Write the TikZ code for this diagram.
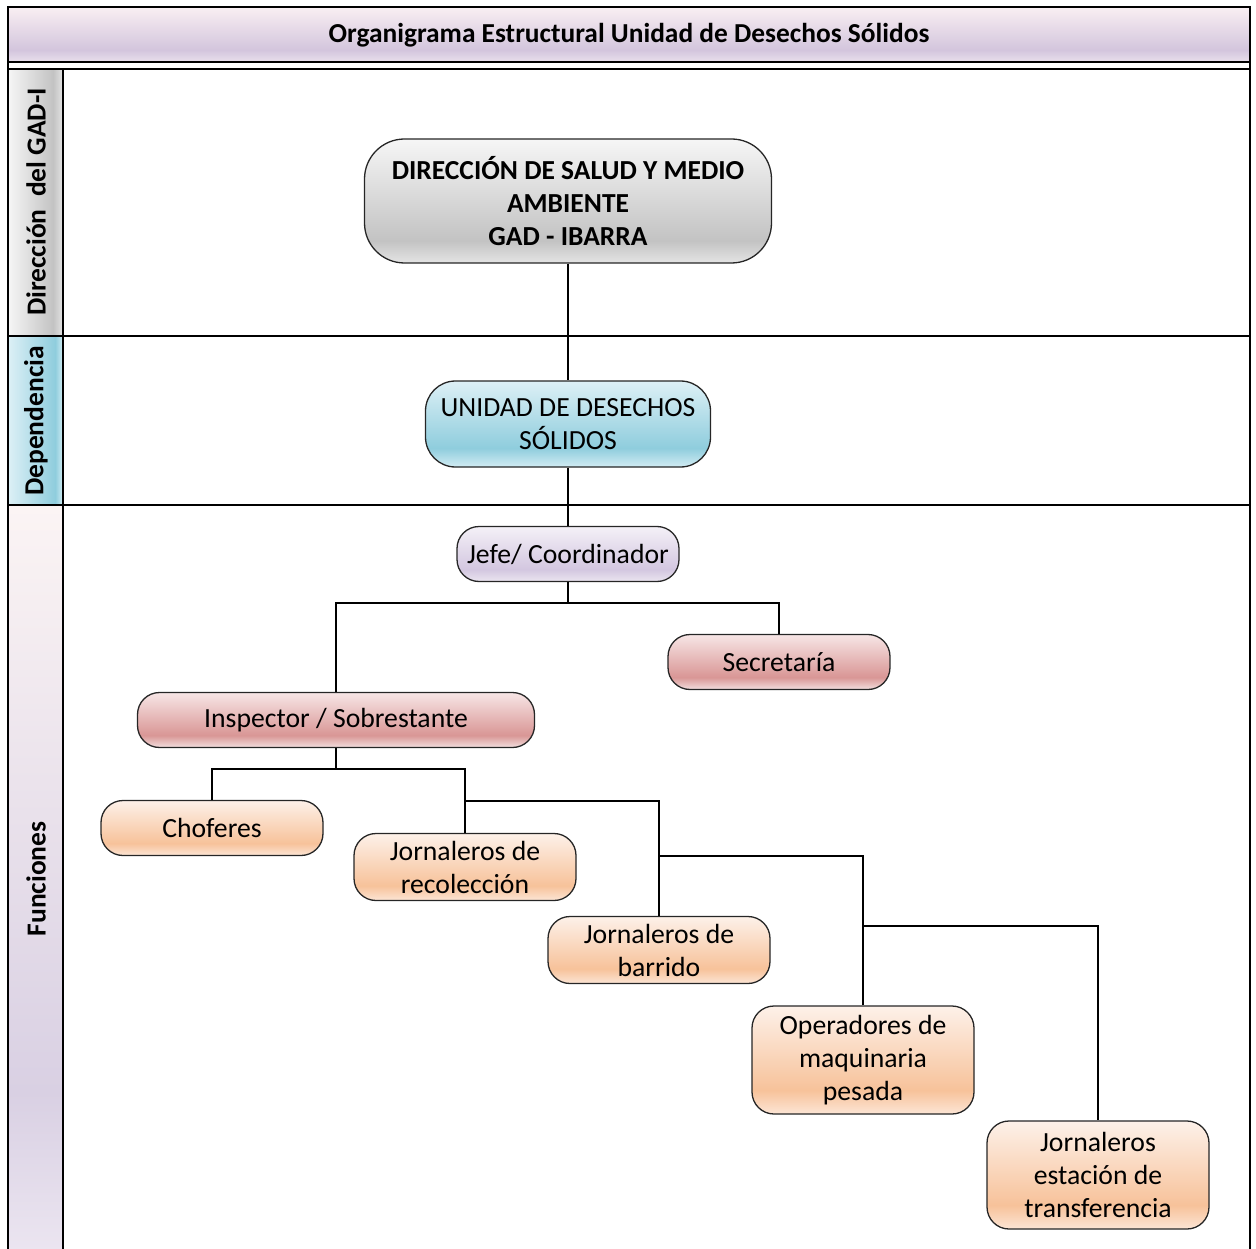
\documentclass[tikz,border=0pt]{standalone}
\usepackage{fontspec}
\setmainfont{Carlito}
\usetikzlibrary{positioning}

% Office-like fill colours: light top, darker band low down, light bottom
\definecolor{grT}{HTML}{F6F6F6}\definecolor{grD}{HTML}{C3C3C3}\definecolor{grB}{HTML}{E4E4E4}
\definecolor{blT}{HTML}{DDF0F6}\definecolor{blD}{HTML}{8FCDDD}\definecolor{blB}{HTML}{D2ECF3}
\definecolor{lvT}{HTML}{F4F0F7}\definecolor{lvD}{HTML}{D3C7E0}\definecolor{lvB}{HTML}{EBE5F0}
\definecolor{rdT}{HTML}{F7E6E6}\definecolor{rdD}{HTML}{D99695}\definecolor{rdB}{HTML}{F2DFDF}
\definecolor{orT}{HTML}{FDF1E9}\definecolor{orD}{HTML}{F7C29A}\definecolor{orB}{HTML}{FCE5D5}
\definecolor{ttT}{HTML}{F9EFF2}\definecolor{ttD}{HTML}{D3C5DD}\definecolor{ttB}{HTML}{E9E0EC}
\definecolor{fnT}{HTML}{FBF4F4}\definecolor{fnD}{HTML}{D9D0E3}\definecolor{fnB}{HTML}{ECE6F1}

\pgfdeclareverticalshading{grayfill}{100bp}{color(0bp)=(grB); color(25bp)=(grB); color(34bp)=(grD); color(75bp)=(grT); color(100bp)=(grT)}
\pgfdeclareverticalshading{bluefill}{100bp}{color(0bp)=(blB); color(25bp)=(blB); color(36bp)=(blD); color(75bp)=(blT); color(100bp)=(blT)}
\pgfdeclareverticalshading{lavfill}{100bp}{color(0bp)=(lvB); color(25bp)=(lvB); color(36bp)=(lvD); color(75bp)=(lvT); color(100bp)=(lvT)}
\pgfdeclareverticalshading{redfill}{100bp}{color(0bp)=(rdB); color(25bp)=(rdB); color(36bp)=(rdD); color(75bp)=(rdT); color(100bp)=(rdT)}
\pgfdeclareverticalshading{orfill}{100bp}{color(0bp)=(orB); color(25bp)=(orB); color(36bp)=(orD); color(75bp)=(orT); color(100bp)=(orT)}
\pgfdeclareverticalshading{titlefill}{100bp}{color(0bp)=(ttB); color(25bp)=(ttB); color(36bp)=(ttD); color(75bp)=(ttT); color(100bp)=(ttT)}
\pgfdeclareverticalshading{funcfill}{100bp}{color(0bp)=(fnB); color(25bp)=(fnB); color(36bp)=(fnD); color(75bp)=(fnT); color(100bp)=(fnT)}
\pgfdeclarehorizontalshading{graylane}{100bp}{color(0bp)=(grT); color(25bp)=(grT); color(66bp)=(grD); color(75bp)=(grB); color(100bp)=(grB)}
\pgfdeclarehorizontalshading{bluelane}{100bp}{color(0bp)=(blT); color(25bp)=(blT); color(68bp)=(blD); color(75bp)=(blB); color(100bp)=(blB)}

\tikzset{
  box/.style={draw=black!85, line width=1.3pt, rounded corners=22pt, align=center,
    font=\fontsize{27.7}{33}\selectfont, inner sep=0pt},
  gray box/.style={box, shading=grayfill, font=\bfseries\fontsize{27.5}{33}\selectfont, rounded corners=40pt},
  blue box/.style={box, shading=bluefill, rounded corners=30pt},
  lav box/.style={box, shading=lavfill},
  red box/.style={box, shading=redfill},
  or box/.style={box, shading=orfill},
  conn/.style={draw=black, line width=1.3pt},
  frame/.style={draw=black, line width=2pt},
  lanelabel/.style={rotate=90, font=\bfseries\fontsize{27.5}{30}\selectfont},
}

\begin{document}
\begin{tikzpicture}[x=1pt, y=-1pt]
\useasboundingbox (0,0) rectangle (1256,1249);

% title bar and lane backgrounds
\shade[shading=titlefill] (8,7) rectangle (1250,62);
\shade[shading=graylane] (8,69) rectangle (63,336);
\shade[shading=bluelane] (8,336) rectangle (63,505);
\shade[shading=funcfill] (8,505) rectangle (63,1258);

% frame and lane rules
\draw[frame] (8,1249) -- (8,7) -- (1250,7) -- (1250,1249);
\draw[frame] (8,62) -- (1250,62);
\draw[frame] (8,69) -- (1250,69);
\draw[frame] (8,336) -- (1250,336);
\draw[frame] (8,505) -- (1250,505);
\draw[frame] (63,69) -- (63,1249);

\node[font=\bfseries\fontsize{27.4}{30}\selectfont] (title) at (629,35) {Organigrama Estructural Unidad de Desechos Sólidos};
\node[lanelabel] (lane1) at (36,202) {Dirección\ \ del GAD-I};
\node[lanelabel] (lane2) at (36,421) {Dependencia};
\node[lanelabel] (lane3) at (36,879) {Funciones};

% boxes
\node[gray box, minimum width=407pt, minimum height=124pt] (dir) at (568,201)
  {DIRECCIÓN DE SALUD Y MEDIO\\AMBIENTE\\GAD - IBARRA};
\node[blue box, minimum width=285pt, minimum height=86pt] (uds) at (568,424)
  {UNIDAD DE DESECHOS\\SÓLIDOS};
\node[lav box, minimum width=222pt, minimum height=55pt] (jefe) at (568,554) {Jefe/ Coordinador};
\node[red box, minimum width=222pt, minimum height=55pt] (secr) at (779,662) {Secretaría};
\node[red box, minimum width=397pt, minimum height=55pt] (insp) at (336,720) {Inspector / Sobrestante};
\node[or box, minimum width=222pt, minimum height=55pt] (chof) at (212,828) {Choferes};
\node[or box, minimum width=222pt, minimum height=67pt] (jrec) at (465,867) {Jornaleros de\\recolección};
\node[or box, minimum width=222pt, minimum height=67pt] (jbar) at (659,950) {Jornaleros de\\barrido};
\node[or box, minimum width=222pt, minimum height=108pt] (oper) at (863,1060) {Operadores de\\maquinaria\\pesada};
\node[or box, minimum width=222pt, minimum height=108pt] (jest) at (1098,1175) {Jornaleros\\estación de\\transferencia};

% branch points
\coordinate (jb) at (568,603);
\coordinate (ib) at (336,769);
\coordinate (rb) at (465,801);
\coordinate (bb) at (659,856);
\coordinate (ob) at (863,926);

% connectors
\draw[conn] (dir.south) -- (uds.north);
\draw[conn] (uds.south) -- (jefe.north);
\draw[conn] (jefe.south) -- (jb);
\draw[conn] (insp.north) |- (jb) -| (secr.north);
\draw[conn] (insp.south) -- (ib);
\draw[conn] (chof.north) |- (ib) -| (jrec.north);
\draw[conn] (rb) -| (jbar.north);
\draw[conn] (bb) -| (oper.north);
\draw[conn] (ob) -| (jest.north);
\end{tikzpicture}
\end{document}
